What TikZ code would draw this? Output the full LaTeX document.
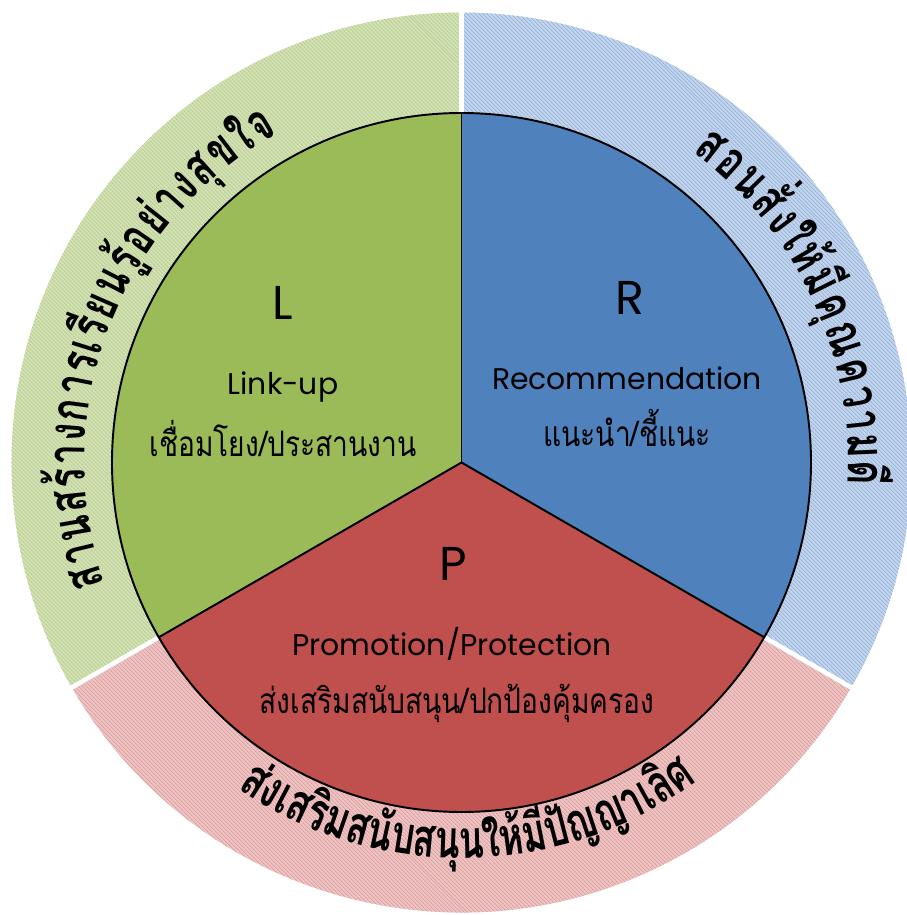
\documentclass[tikz,border=0pt]{standalone}
\usepackage{fontspec}
\setmainfont{Poppins}
\newfontfamily\thaifont[Script=Thai,FakeStretch=0.8]{Loma}
\newfontfamily\ringfamily[Script=Thai,FakeStretch=0.7]{Loma}
\usetikzlibrary{patterns.meta}

\definecolor{lgreen}{HTML}{9BBB59}
\definecolor{lblue}{HTML}{4F81BD}
\definecolor{lred}{HTML}{C0504D}
\definecolor{ringgreen}{HTML}{D3E1B7}
\definecolor{ringgreenline}{HTML}{B6CD8A}
\definecolor{ringblue}{HTML}{C3D5EC}
\definecolor{ringblueline}{HTML}{93B1D9}
\definecolor{ringred}{HTML}{EDC4C3}
\definecolor{ringredline}{HTML}{DC9E9D}

\newcommand\ringfont{\ringfamily\bfseries\fontsize{15}{18}\selectfont}
\newlength\clusterwd
\newcommand\measurecluster[1]{%
	\sbox0{\pgfinterruptpicture\ringfont#1\endpgfinterruptpicture}\global\clusterwd=\wd0\relax}
% #1 name, #2 radius, #3 from angle, #4 to angle, #5 turn, #6 letters
\newcommand\ringtext[6]{%
	\gdef\ringsum{0}%
	\foreach \g in {#6}{%
		\measurecluster{\g}%
		\pgfmathsetmacro\ringtmp{\ringsum+\clusterwd}%
		\global\let\ringsum\ringtmp
	}%
	\pgfmathsetmacro\ringdeg{(#4-(#3))/max(\ringsum,1)}%
	\gdef\ringang{#3}%
	\foreach \g [count=\k] in {#6}{%
		\measurecluster{\g}%
		\pgfmathsetmacro\ringmid{\ringang+0.5*\clusterwd*\ringdeg}%
		\node[ring letter, rotate=\ringmid#5] (#1-\k) at (\ringmid:#2) {\g};%
		\pgfmathsetmacro\ringtmp{\ringang+\clusterwd*\ringdeg}%
		\global\let\ringang\ringtmp
	}%
}

\begin{document}
\begin{tikzpicture}[
		letter/.style={font=\fontsize{13.5}{16}\selectfont, anchor=base},
		latin/.style={font=\fontsize{8.5}{10}\selectfont, anchor=base},
		thai/.style={font=\thaifont\fontsize{10}{12}\selectfont, anchor=base},
		ring letter/.style={font=\ringfont, anchor=base, inner sep=0pt},
		ring/.style 2 args={fill=#1, postaction={pattern={Lines[angle=-45,distance=0.9pt,line width=0.35pt]}, pattern color=#2}},
		gap/.style={white, line width=1.3pt},
		outline/.style={black, line width=0.55pt}
	]
	\useasboundingbox (-4.615,-4.525) rectangle (4.455,4.625);
	\fill[white] (-4.615,-4.525) rectangle (4.455,4.625);
	\coordinate (c) at (0,0);

	\foreach \from/\to/\light/\hatch/\dark in {90/210/ringgreen/ringgreenline/lgreen, 210/330/ringred/ringredline/lred, -30/90/ringblue/ringblueline/lblue}{
		\path[ring={\light}{\hatch}] (\from:4.5) arc[start angle=\from, end angle=\to, radius=4.5] -- (\to:3.495) arc[start angle=\to, end angle=\from, radius=3.495] -- cycle;
		\fill[\dark] (c) -- (\from:3.495) arc[start angle=\from, end angle=\to, radius=3.495] -- cycle;
	}
	\foreach \a in {90,210,330}
		\draw[gap] (\a:3.495) -- (\a:4.6);
	\draw[outline] (c) circle[radius=3.495];
	\foreach \a in {90,210,330}
		\draw[outline] (c) -- (\a:3.495);

	\node[letter] (L) at (-1.785,1.425) {L};
	\node[latin] (linkup) at (-1.785,0.675) {Link-up};
	\node[thai] (linkupth) at (-1.785,0.055) {เชื่อมโยง/ประสานงาน};

	\node[letter] (R) at (1.685,1.475) {R};
	\node[latin] (recommend) at (1.655,0.725) {Recommendation};
	\node[thai] (recommendth) at (1.655,0.155) {แนะนำ/ชี้แนะ};

	\node[letter] (P) at (-0.085,-1.175) {P};
	\node[latin] (promote) at (-0.095,-1.925) {Promotion/Protection};
	\node[thai] (promoteth) at (-0.045,-2.505) {ส่งเสริมสนับสนุน/ปกป้องคุ้มครอง};

	\ringtext{happy}{3.77}{199}{119}{-90}{ส,า,น,ส,ร้,า,ง,ก,า,ร,เ,รี,ย,น,รู้,อ,ย่,า,ง,สุ,ข,ใ,จ}
	\ringtext{virtue}{3.87}{53.5}{-3.5}{-90}{ส,อ,น,สั่,ง,ใ,ห้,มี,คุ,ณ,ค,ว,า,ม,ดี}
	\ringtext{wisdom}{3.96}{235.5}{306.5}{+90}{ส่,ง,เ,ส,ริ,ม,ส,นั,บ,ส,นุ,น,ใ,ห้,มี,ปั,ญ,ญ,า,เ,ลิ,ศ}
\end{tikzpicture}
\end{document}
